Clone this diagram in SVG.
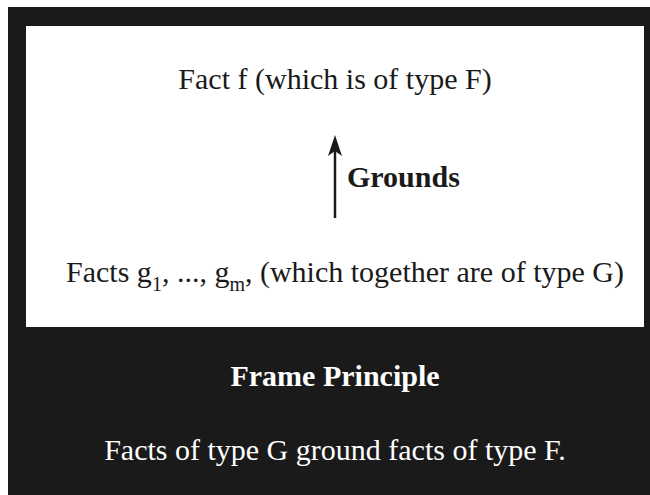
<svg xmlns="http://www.w3.org/2000/svg" width="650" height="495" viewBox="0 0 650 495">
<style>
.t{font-family:"Liberation Serif","Times New Roman",serif;font-size:30px;text-anchor:middle}
.d{fill:#1a1a1a}
.w{fill:#ffffff}
.b{font-weight:bold}
</style>
<rect x="8" y="7" width="650" height="495" fill="#1a1a1a"/>
<g id="frame">
<rect x="26" y="26" width="618" height="301" fill="#ffffff"/>
</g>
<g id="fact-f">
<text class="t d" x="335" y="89">Fact f (which is of type F)</text>
</g>
<g id="facts-g">
<text class="t d" x="345" y="282">Facts g<tspan font-size="20" dy="9">1</tspan><tspan dy="-9">, ..., g</tspan><tspan font-size="20" dy="9">m</tspan><tspan dy="-9">, (which together are of type G)</tspan></text>
</g>
<g id="connectors">
<line x1="335" y1="218" x2="335" y2="148" stroke="#1a1a1a" stroke-width="2.5"/>
<path d="M335,135 L342,156 L335,151 L328,156 Z" fill="#1a1a1a"/>
<text class="t d b" x="347" y="187" style="text-anchor:start">Grounds</text>
</g>
<g id="principle">
<text class="t w b" x="335" y="386">Frame Principle</text>
<text class="t w" x="335" y="460">Facts of type G ground facts of type F.</text>
</g>
</svg>
